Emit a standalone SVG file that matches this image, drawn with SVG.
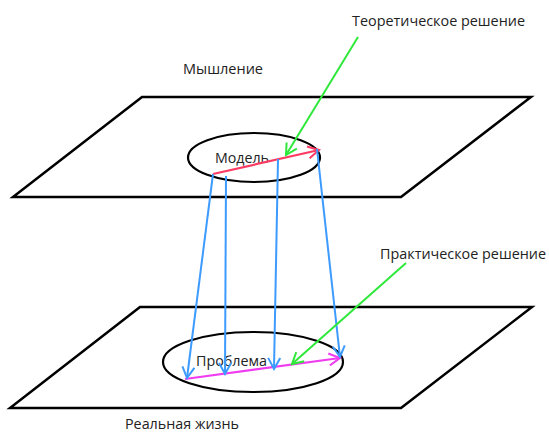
<svg xmlns="http://www.w3.org/2000/svg" width="549" height="432" viewBox="0 0 549 432">
<style>
.plane{fill:none;stroke:#000;stroke-width:2.5;stroke-linejoin:miter}
.ell{fill:none;stroke:#000;stroke-width:2.2}
.lbl{font-family:"Open Sans","Liberation Sans",sans-serif;font-size:14.5px;fill:#222}
.blue{stroke:#3d9bff;stroke-width:2;fill:none}
.green{stroke:#2ee83a;stroke-width:2;fill:none}
.red{stroke:#ff3b63;stroke-width:2.2;fill:none}
.mag{stroke:#f03cf0;stroke-width:2.2;fill:none}
</style>
<defs>
<marker id="ab" markerUnits="userSpaceOnUse" markerWidth="14" markerHeight="14" viewBox="0 0 14 14" refX="12" refY="7" orient="auto"><path d="M1,1 L12,7 L1,13" fill="none" stroke="#3d9bff" stroke-width="2"/></marker>
<marker id="ag" markerUnits="userSpaceOnUse" markerWidth="14" markerHeight="14" viewBox="0 0 14 14" refX="12" refY="7" orient="auto"><path d="M1,1 L12,7 L1,13" fill="none" stroke="#2ee83a" stroke-width="2"/></marker>
<marker id="ar" markerUnits="userSpaceOnUse" markerWidth="14" markerHeight="14" viewBox="0 0 14 14" refX="12" refY="7" orient="auto"><path d="M1,1 L12,7 L1,13" fill="none" stroke="#ff3b63" stroke-width="2"/></marker>
<marker id="am" markerUnits="userSpaceOnUse" markerWidth="14" markerHeight="14" viewBox="0 0 14 14" refX="12" refY="7" orient="auto"><path d="M1,1 L12,7 L1,13" fill="none" stroke="#f03cf0" stroke-width="2"/></marker>
</defs>
<g id="plane-thinking">
<polygon class="plane" points="142,97 531,97 401,197 13,197"/>
<text class="lbl" x="183" y="74" textLength="80" lengthAdjust="spacingAndGlyphs">Мышление</text>
</g>
<g id="plane-reality">
<polygon class="plane" points="140,307 532,307 401,408 10,408"/>
<text class="lbl" x="125" y="429" textLength="114" lengthAdjust="spacingAndGlyphs">Реальная жизнь</text>
</g>
<g id="model">
<ellipse class="ell" cx="254" cy="157.5" rx="66" ry="24.5"/>
<text class="lbl" x="215" y="163" textLength="54" lengthAdjust="spacingAndGlyphs">Модель</text>
</g>
<g id="problem">
<ellipse class="ell" cx="253" cy="362" rx="90" ry="30"/>
<text class="lbl" x="196" y="366" textLength="71" lengthAdjust="spacingAndGlyphs">Проблема</text>
</g>
<g id="theory-label">
<text class="lbl" x="352" y="26" textLength="173" lengthAdjust="spacingAndGlyphs">Теоретическое решение</text>
</g>
<g id="practice-label">
<text class="lbl" x="380" y="259" textLength="166" lengthAdjust="spacingAndGlyphs">Практическое решение</text>
</g>
<g id="connectors">
<line class="red" x1="213" y1="174" x2="319" y2="150" marker-end="url(#ar)"/>
<line class="mag" x1="185" y1="379" x2="340" y2="358" marker-end="url(#am)"/>
<line class="blue" x1="213" y1="174" x2="187" y2="378" marker-end="url(#ab)"/>
<line class="blue" x1="226" y1="176" x2="225" y2="374" marker-end="url(#ab)"/>
<line class="blue" x1="278" y1="159" x2="274" y2="369" marker-end="url(#ab)"/>
<line class="blue" x1="317" y1="149" x2="340" y2="357" marker-end="url(#ab)"/>
<line class="green" x1="358" y1="37" x2="286" y2="155" marker-end="url(#ag)"/>
<line class="green" x1="406" y1="263" x2="292" y2="364" marker-end="url(#ag)"/>
</g>
</svg>
